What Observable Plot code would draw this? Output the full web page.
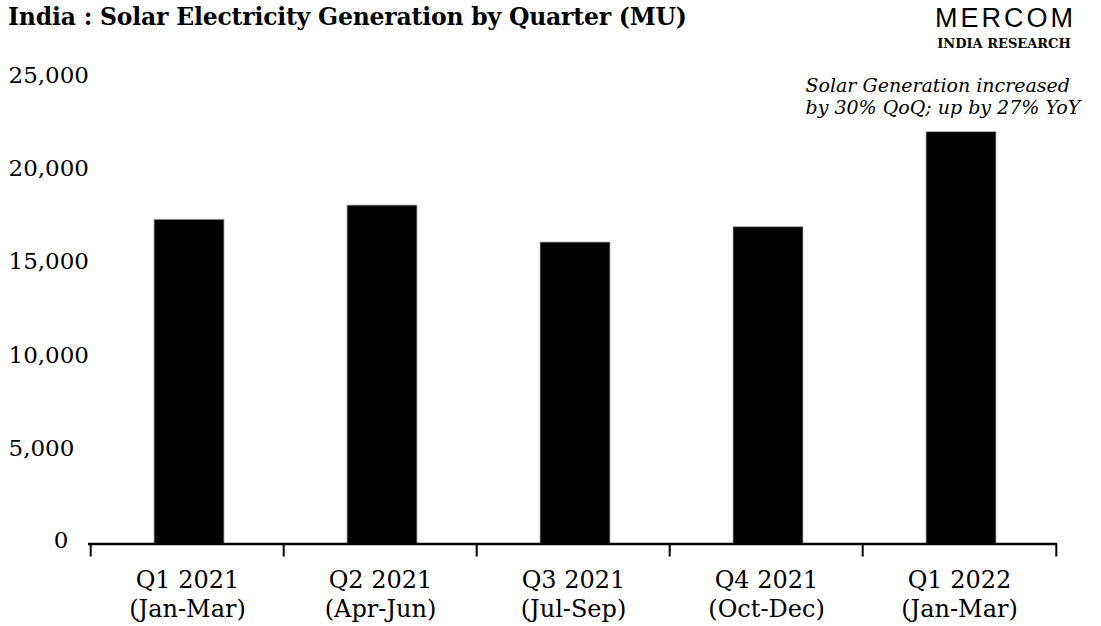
<!DOCTYPE html>
<html>
<head>
<meta charset="utf-8">
<script src="https://cdn.jsdelivr.net/npm/d3@7"></script>
<script src="https://cdn.jsdelivr.net/npm/@observablehq/plot@0.6"></script>
<style>
  html, body { margin: 0; padding: 0; background: #fff; }
  #wrap { width: 1101px; height: 626px; position: relative; overflow: hidden; background: #fff; }
  #header { position: relative; width: 1101px; height: 50px; }
  #title { position: absolute; left: 8px; top: 6px; font-family: "DejaVu Serif", serif; font-weight: bold; font-size: 23.5px; line-height: 1; color: #000; white-space: nowrap; letter-spacing: -0.2px; }
  #logo { position: absolute; right: 12px; top: 5px; width: 170px; text-align: center; color: #000; }
  #logo .m { font-family: "Liberation Sans", Arial, sans-serif; font-size: 27px; line-height: 1; letter-spacing: 3px; margin-left: 3px; }
  #logo .r { font-family: "DejaVu Serif", serif; font-weight: bold; font-size: 13px; line-height: 1; margin-top: 5px; }
</style>
</head>
<body>
<div id="wrap">
  <div id="header">
    <div id="title">India : Solar Electricity Generation by Quarter (MU)</div>
    <div id="logo"><div class="m">MERCOM</div><div class="r">INDIA RESEARCH</div></div>
  </div>
  <div id="chart"></div>
</div>
<script>
const quarters = ["Q1 2021", "Q2 2021", "Q3 2021", "Q4 2021", "Q1 2022"];
const months = ["(Jan-Mar)", "(Apr-Jun)", "(Jul-Sep)", "(Oct-Dec)", "(Jan-Mar)"];
const generation = [17370, 18130, 16150, 16970, 22060];
const yTicks = [0, 5000, 10000, 15000, 20000, 25000];
const note = "Solar Generation increased\nby 30% QoQ; up by 27% YoY";

const data = quarters.map((q, i) => ({quarter: q, value: generation[i]}));

const W = 1101, H = 576, ML = 89, MR = 44;
const step = (W - ML - MR) / quarters.length;

const plot = Plot.plot({
  width: W,
  height: H,
  marginLeft: ML,
  marginRight: MR,
  marginTop: 26.8,
  marginBottom: 82.5,
  style: {fontFamily: "DejaVu Serif, serif", fontSize: "22px", color: "#000", background: "#fff"},
  x: {domain: quarters, paddingInner: 0.636, paddingOuter: 0.318, axis: null},
  y: {domain: [0, 25000], axis: null},
  marks: [
    Plot.barY(data, {x: "quarter", y: "value", fill: "#000", stroke: "#b0b0b0", strokeWidth: 0.8, dx: 2}),
    Plot.ruleY([0], {stroke: "#000", strokeWidth: 2.5, insetLeft: -1}),
    Plot.ruleX(quarters, {x: d => d, y1: 0, y2: 0, dx: -step / 2, insetBottom: -13, stroke: "#000", strokeWidth: 2}),
    Plot.ruleX(quarters.slice(-1), {x: d => d, y1: 0, y2: 0, dx: step / 2, insetBottom: -13, stroke: "#000", strokeWidth: 2}),
    Plot.axisX({
      label: null,
      tickSize: 0,
      tickPadding: 24,
      fontSize: 24,
      lineHeight: 1.2,
      tickFormat: d => d + "\n" + months[quarters.indexOf(d)]
    }),
    Plot.axisY(yTicks.filter(d => d > 0), {
      label: null,
      tickSize: 0, tickPadding: 81, textAnchor: "start", fontSize: 23, dy: -2,
      tickFormat: d3.format(",")
    }),
    Plot.axisY(yTicks.filter(d => d === 0), {
      label: null,
      tickSize: 0, tickPadding: 21, textAnchor: "end", fontSize: 23, dy: -3,
      tickFormat: d3.format(",")
    }),
    Plot.text([note], {
      frameAnchor: "top-right", textAnchor: "start", lineAnchor: "top",
      dx: 805 - (W - MR), dy: -1, fontSize: 19, fontStyle: "italic", lineHeight: 1.16
    })
  ]
});
document.getElementById("chart").appendChild(plot);
</script>
</body>
</html>
